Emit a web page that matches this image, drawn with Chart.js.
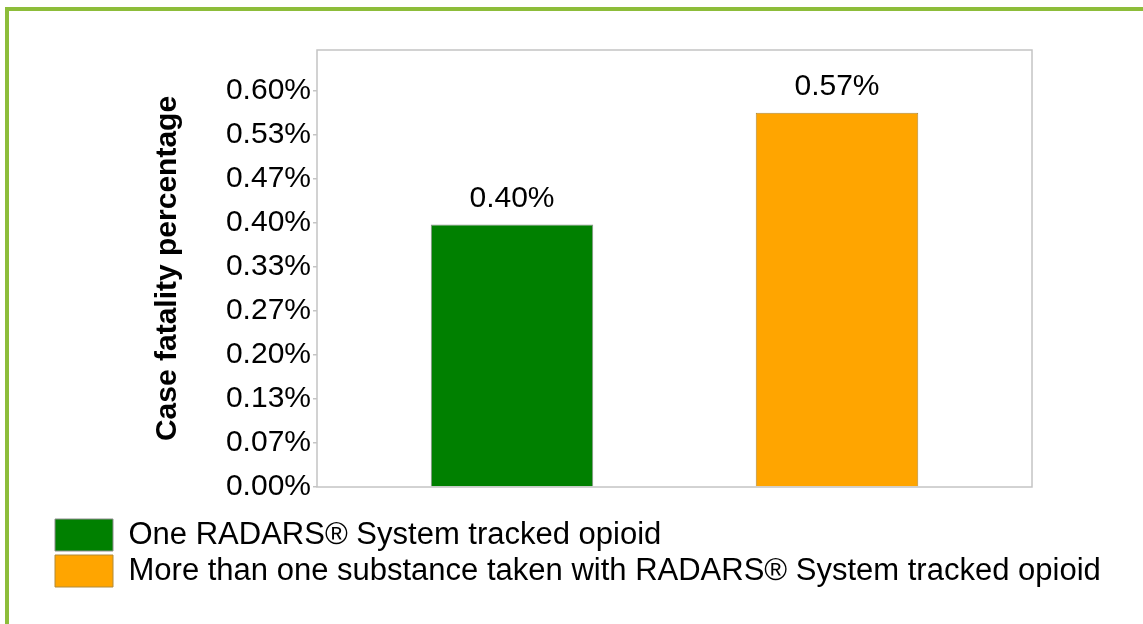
<!DOCTYPE html>
<html><head><meta charset="utf-8">
<script src="https://cdn.jsdelivr.net/npm/chart.js@4"></script>
<style>
html,body{margin:0;padding:0;background:#fff;overflow:hidden;}
#frame{position:absolute;left:5px;top:7px;right:-10px;bottom:-10px;border-left:4px solid #8dbd3a;border-top:4px solid #8dbd3a;}
#wrap{position:absolute;left:0;top:0;width:1143px;height:624px;}
</style></head><body>
<div id="frame"></div>
<div id="wrap"><canvas id="c"></canvas></div>
<script>
const categories = ['One RADARS\u00AE System tracked opioid', 'More than one substance taken with RADARS\u00AE System tracked opioid'];
const values = [0.397, 0.566];
const barColors = ['#008000', '#FFA500'];
const barBorders = ['#8c8c8c', '#b08a3a'];
const yTickValues = [0, 0.0667, 0.1333, 0.2, 0.2667, 0.3333, 0.4, 0.4667, 0.5333, 0.6];
const yTickLabels = ['0.00%', '0.07%', '0.13%', '0.20%', '0.27%', '0.33%', '0.40%', '0.47%', '0.53%', '0.60%'];
const yMax = 0.661;
const yTitle = 'Case fatality percentage';

Chart.defaults.font.family = '"Liberation Sans", Arial, sans-serif';
Chart.defaults.font.size = 30;
Chart.defaults.color = '#000';

const boxPlugin = {
  id: 'plotBox',
  beforeDatasetsDraw(chart) {
    const a = chart.chartArea, ctx = chart.ctx;
    ctx.save();
    ctx.strokeStyle = '#c4c4c4';
    ctx.lineWidth = 1.5;
    ctx.strokeRect(a.left, a.top, a.right - a.left, a.bottom - a.top);
    ctx.restore();
  }
};
const labelPlugin = {
  id: 'barLabels',
  afterDatasetsDraw(chart) {
    const ctx = chart.ctx;
    ctx.save();
    ctx.font = '30px "Liberation Sans", Arial, sans-serif';
    ctx.fillStyle = '#000';
    ctx.textAlign = 'center';
    ctx.textBaseline = 'alphabetic';
    chart.data.datasets.forEach((ds, di) => {
      const meta = chart.getDatasetMeta(di);
      meta.data.forEach((el, i) => {
        const v = ds.data[i].y;
        ctx.fillText(v.toFixed(2) + '%', el.x, el.y - 18);
      });
    });
    ctx.restore();
  }
};

new Chart(document.getElementById('c'), {
  type: 'bar',
  data: {
    datasets: categories.map((c, i) => ({
      label: c,
      data: [{x: i, y: values[i]}],
      backgroundColor: barColors[i],
      borderColor: barBorders[i],
      borderWidth: 1,
      grouped: false,
      barPercentage: 0.5,
      categoryPercentage: 1
    }))
  },
  options: {
    responsive: true,
    maintainAspectRatio: false,
    animation: false,
    layout: {padding: {left: 51, top: 50, right: 0, bottom: 27}},
    plugins: {
      tooltip: {enabled: false},
      legend: {
        position: 'bottom',
        align: 'start',
        labels: {boxWidth: 58, boxHeight: 32, padding: 4, color: '#000', font: {size: 31}}
      }
    },
    scales: {
      x: {
        type: 'linear',
        offset: false,
        min: -0.6,
        max: 1.6,
        afterBuildTicks: s => { s.ticks = categories.map((c, i) => ({value: i})); },
        afterFit: s => { s.height = 28; },
        grid: {display: false, drawTicks: false, offset: false},
        border: {display: false},
        ticks: {display: false}
      },
      y: {
        min: 0,
        max: yMax,
        afterBuildTicks: s => { s.ticks = yTickValues.map(v => ({value: v})); },
        afterFit: s => { s.width = 266; },
        ticks: {
          padding: 2,
          color: '#000',
          font: {size: 30},
          callback: (v, i) => yTickLabels[i]
        },
        grid: {display: true, drawOnChartArea: false, drawTicks: true, tickLength: 4, color: '#c4c4c4', lineWidth: 1.5},
        border: {display: false},
        title: {display: true, text: yTitle, color: '#000', font: {size: 30, weight: 'bold'}, padding: {top: 99, bottom: 0}}
      },
      yRight: {
        type: 'linear',
        position: 'right',
        min: 0,
        max: 1,
        afterFit: s => { s.width = 111; },
        grid: {display: false, drawTicks: false},
        border: {display: false},
        ticks: {display: false}
      }
    }
  },
  plugins: [boxPlugin, labelPlugin]
});
</script>
</body></html>
